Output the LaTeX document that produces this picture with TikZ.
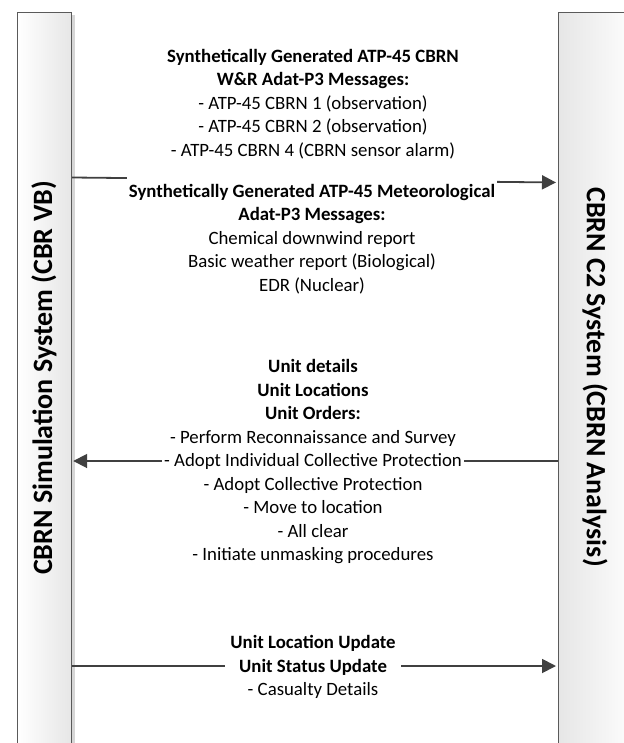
\documentclass[tikz,border=0pt]{standalone}
\usepackage{fontspec}
\setmainfont{Carlito}
\usepackage{xcolor}
\usetikzlibrary{arrows.meta,positioning}
\definecolor{flowgray}{HTML}{404040}
\definecolor{barshade}{HTML}{E6E6E6}
\definecolor{barline}{HTML}{5A5A5A}
\definecolor{barshadow}{HTML}{D6D6D6}

\tikzset{
    sysbar/.style={draw=barline, line width=1.2pt, minimum height=760pt, anchor=north west, inner sep=0pt},
    barname/.style={font=\fontsize{28}{34}\selectfont\bfseries},
    msgtext/.style={align=center, fill=white, inner xsep=2pt, inner ysep=7pt, font=\fontsize{18.8}{23.5}\selectfont},
    flow/.style={draw=flowgray, line width=1.8pt, -{Triangle[length=14pt,width=14pt]}}
}

\begin{document}
\begin{tikzpicture}[x=1pt, y=-1pt]
    \useasboundingbox (0,0) rectangle (623,743);

    % Shadow of the simulation bar
    \fill[barshadow] (20,14.7) rectangle (74.5,760);

    % Simulation system bar
    \node[sysbar, minimum width=54pt, left color=white, right color=barshade] (sim) at (17,11.7) {};
    \node[barname, rotate=90] (simname) at (44,378) {CBRN Simulation System (CBR VB)};

    % C2 system bar
    \node[sysbar, minimum width=80pt, left color=barshade, right color=white] (ctwo) at (558,11.7) {};
    \node[barname, rotate=-90] (ctwoname) at (595,377) {CBRN C2 System (CBRN Analysis)};

    % Message flows
    \draw[flow, shorten >=2pt] (sim.east |- 0,177.5) -- (ctwo.west |- 0,182.5);
    \draw[flow, shorten >=1pt] (ctwo.west |- 0,461) -- (sim.east |- 0,461);
    \draw[flow, shorten >=2pt] (sim.east |- 0,666) -- (ctwo.west |- 0,666);

    % Message texts
    \node[msgtext] (cbrnmsg) at (313,104) {\textbf{Synthetically Generated ATP-45 CBRN}\\
        \textbf{W\&R Adat-P3 Messages:}\\
        - ATP-45 CBRN 1 (observation)\\
        - ATP-45 CBRN 2 (observation)\\
        - ATP-45 CBRN 4 (CBRN sensor alarm)};
    \node[msgtext] (metmsg) at (312,239) {\textbf{Synthetically Generated ATP-45 Meteorological}\\
        \textbf{Adat-P3 Messages:}\\
        Chemical downwind report\\
        Basic weather report (Biological)\\
        EDR (Nuclear)};
    \node[msgtext] (ordermsg) at (313,462) {\textbf{Unit details}\\
        \textbf{Unit Locations}\\
        \textbf{Unit Orders:}\\
        - Perform Reconnaissance and Survey\\
        - Adopt Individual Collective Protection\\
        - Adopt Collective Protection\\
        - Move to location\\
        - All clear\\
        - Initiate unmasking procedures};
    \node[msgtext, inner xsep=5pt] (updatemsg) at (313,667) {\textbf{Unit Location Update}\\
        \textbf{Unit Status Update}\\
        - Casualty Details};
\end{tikzpicture}
\end{document}
